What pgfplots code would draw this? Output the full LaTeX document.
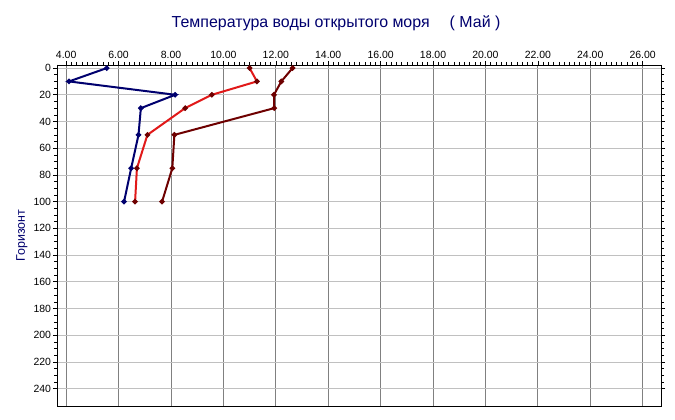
\documentclass[border=0pt]{standalone}
\usepackage{pgfplots}
\pgfplotsset{compat=1.18}
\usepackage{fontspec}
\setmainfont{Liberation Sans}
\definecolor{navy}{RGB}{0,0,110}
\definecolor{myred}{RGB}{225,25,25}
\definecolor{dred}{RGB}{110,0,0}
\definecolor{vgrid}{RGB}{128,128,128}
\definecolor{hgrid}{RGB}{192,192,192}
\begin{document}
\begin{tikzpicture}[x=1bp,y=1bp]
\useasboundingbox (0,0) rectangle (675,419);
\begin{axis}[
  at={(57bp,13bp)}, anchor=south west,
  scale only axis, width=604bp, height=341bp,
  xmin=3.65, xmax=26.7, ymin=-2.3, ymax=253,
  y dir=reverse,
  axis x line*=top,
  xtick={4,6,...,26}, minor x tick num=9,
  ytick={0,20,...,240}, minor y tick num=3,
  tick align=outside,
  major tick length=4bp, minor tick length=3bp,
  tick style={black, line width=0.6pt},
  xticklabel style={/pgf/number format/.cd, fixed, fixed zerofill, precision=2},
  xticklabel={\pgfmathprintnumber{\tick}},
  /pgf/number format/assume math mode=true,
  ticklabel style={font=\fontsize{10.5}{12}\selectfont, text=black},
  xticklabel shift=-1bp,
  yticklabel shift=-1.5bp,
  axis line style={black, line width=1pt},
  grid=major,
  x grid style={vgrid, line width=0.8pt},
  y grid style={hgrid, line width=0.8pt},
  ylabel={Горизонт},
  every axis y label/.style={at={(axis description cs:-0.058,0.50)}, rotate=90, anchor=center, text=navy, font=\fontsize{12.5}{15}\selectfont},
  title={Температура воды открытого моря\hspace{20bp}( Май )},
  title style={text=navy, font=\fontsize{16}{19}\selectfont, at={(0.462,1)}, anchor=base, yshift=32bp},
  clip=false,
]
\draw[black, line width=1pt] (rel axis cs:0,1) -- (rel axis cs:0,0) -- (rel axis cs:1,0) -- (rel axis cs:1,1);
\addplot[navy, line width=2bp, mark=*, mark size=1.6bp] coordinates {
(5.55,0) (4.11,10) (8.16,20) (6.85,30) (6.76,50) (6.48,75) (6.21,100)};
\addplot[myred, line width=2bp, mark=*, mark size=1.6bp, mark options={fill=dred, draw=dred}] coordinates {
(11.00,0) (11.28,10) (9.56,20) (8.54,30) (7.10,50) (6.70,75) (6.63,100)};
\addplot[dred, line width=2bp, mark=*, mark size=1.6bp] coordinates {
(12.64,0) (12.21,10) (11.93,20) (11.94,30) (8.13,50) (8.05,75) (7.66,100)};
\end{axis}
\end{tikzpicture}
\end{document}
